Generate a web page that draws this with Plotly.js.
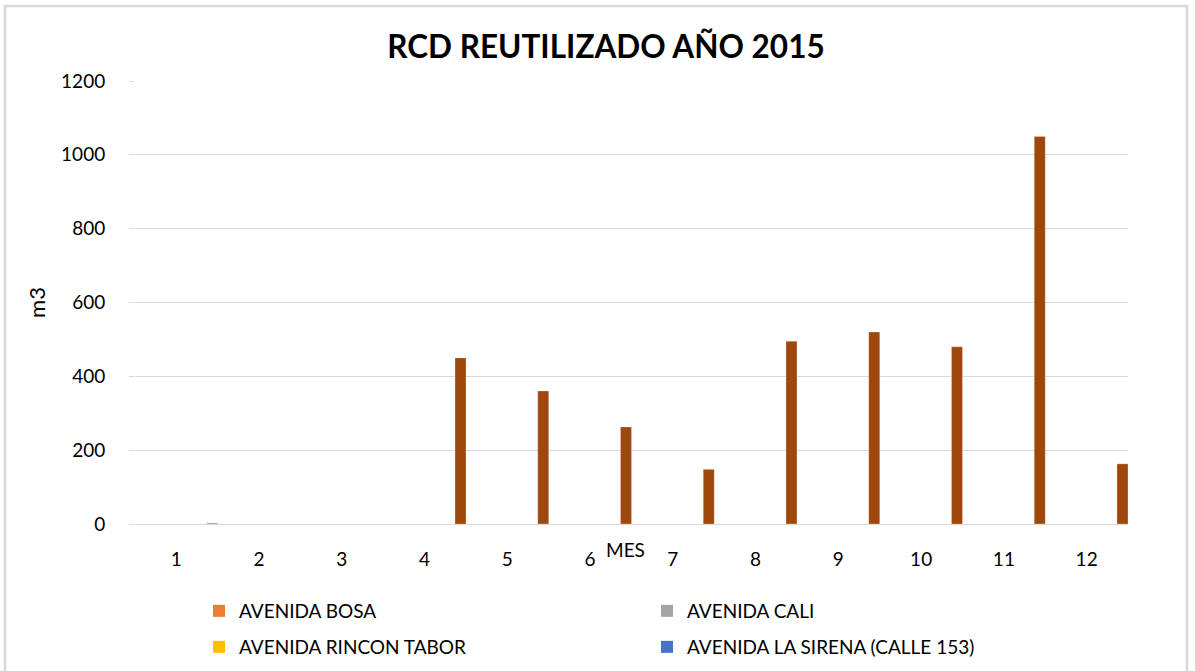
<!DOCTYPE html>
<html>
<head>
<meta charset="utf-8">
<script src="https://cdn.plot.ly/plotly-3.0.1.min.js"></script>
<style>html,body{margin:0;padding:0;background:#fff;}#chart{width:1195px;height:671px;}</style>
</head>
<body>
<div id="chart"></div>
<script>
const months = ['1','2','3','4','5','6','7','8','9','10','11','12'];
const avenidaBosa = [0,0,0,0,0,0,0,0,0,0,0,0];
const avenidaCali = [0,0,0,0,0,0,0,0,0,0,0,0];
const avenidaRinconTabor = [0,0,0,0,0,0,0,0,0,0,0,0];
const avenidaLaSirena = [0,0,0,0,0,0,0,0,0,0,0,0];
const rcdReutilizado = [2,0,0,450,360,263,148,495,520,480,1050,163];

const font = 'Lato, "Open Sans", sans-serif';
const legendSeries = [
  {name:'AVENIDA BOSA', y:avenidaBosa, color:'#ED7D31', legend:'legend'},
  {name:'AVENIDA CALI', y:avenidaCali, color:'#A5A5A5', legend:'legend'},
  {name:'AVENIDA RINCON TABOR', y:avenidaRinconTabor, color:'#FFC000', legend:'legend2'},
  {name:'AVENIDA LA SIRENA (CALLE 153)', y:avenidaLaSirena, color:'#4472C4', legend:'legend2'}
];
const traces = legendSeries.map((s,i)=>({
  type:'bar', x:months, y:s.y, name:s.name, legend:s.legend,
  marker:{color:s.color}, width:0.133, offset:-0.5+0.133*i,
  hoverinfo:'y+name'
}));
traces.push({
  type:'bar', x:months, y:rcdReutilizado, name:'RCD REUTILIZADO',
  marker:{color:'#9E480E', line:{color:'rgba(255,255,255,0.5)', width:0.5}},
  width:0.133, offset:0.367, showlegend:false
});

const plotH = 443, plotW = 993;
const legFont = {family:font, size:19, color:'#000'};
const legCommon = {orientation:'h', x:(199-135)/plotW, xanchor:'left', yanchor:'middle', entrywidth:403, font:legFont, traceorder:'normal', bgcolor:'rgba(0,0,0,0)'};

const layout = {
  width:1195, height:671,
  margin:{l:135, r:67, t:81, b:147, autoexpand:false},
  paper_bgcolor:'#fff', plot_bgcolor:'#fff',
  font:{family:font, color:'#000', size:19},
  title:{text:'<b>RCD REUTILIZADO AÑO 2015</b>', font:{family:font, size:31.5, color:'#000'}, x:(606)/1195, xanchor:'center', y:1-47/671, yanchor:'middle'},
  barmode:'group',
  showlegend:true,
  legend:Object.assign({}, legCommon, {y:-(611-524)/plotH}),
  legend2:Object.assign({}, legCommon, {y:-(647-524)/plotH}),
  xaxis:{type:'category', showgrid:false, zeroline:false, showline:false, ticks:'', ticklabelstandoff:22, tickfont:{family:font, size:19}, fixedrange:true},
  yaxis:{range:[0,1200], dtick:200, showgrid:true, gridcolor:'#d9d9d9', gridwidth:1.3, zeroline:true, zerolinecolor:'#d9d9d9', zerolinewidth:1.3, showline:false, ticks:'outside', ticklen:5, tickcolor:'#d9d9d9', ticklabelstandoff:20, tickfont:{family:font, size:19},
    title:{text:'m3', font:{family:font, size:22}, standoff:9}},
  annotations:[{text:'MES', xref:'paper', yref:'paper', x:(625-135)/plotW, y:-(549-524)/plotH, xanchor:'center', yanchor:'middle', showarrow:false, font:{family:font, size:19, color:'#000'}}],
  shapes:[{type:'rect', xref:'paper', yref:'paper', x0:(5-135)/plotW, x1:(1187-135)/plotW, y0:(524-690)/plotH, y1:(524-6)/plotH, line:{color:'#d9d9d9', width:2.5}, fillcolor:'rgba(0,0,0,0)', layer:'below'}]
};
Plotly.newPlot('chart', traces, layout, {displayModeBar:false, responsive:false});
</script>
</body>
</html>
